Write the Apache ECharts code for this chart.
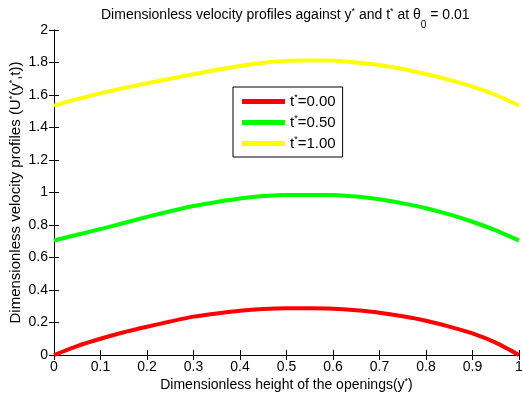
<!DOCTYPE html>
<html lang="en">
  <head>
    <meta charset="UTF-8" />
    <title>Velocity profiles</title>
    <script src="https://cdn.jsdelivr.net/npm/echarts@6/dist/echarts.min.js"></script>
  </head>
  <style>
    html,
    body {
      margin: 0;
      padding: 0;
      background: #fff;
    }
    #echart {
      width: 523px;
      height: 401px;
    }
  </style>
  <body>
    <div id="echart"></div>
  </body>
  <script>
    // y* positions along the opening
    const yStar = [0, 0.05, 0.1, 0.15, 0.2, 0.25, 0.3, 0.35, 0.4, 0.45, 0.5,
      0.55, 0.6, 0.65, 0.7, 0.75, 0.8, 0.85, 0.9, 0.95, 1];
    const tLabels = ["0.00", "0.50", "1.00"];
    const u_t0 = [0, 0.055, 0.1, 0.14, 0.174, 0.206, 0.236, 0.256, 0.273, 0.283, 0.287,
      0.287, 0.285, 0.275, 0.26, 0.238, 0.211, 0.175, 0.133, 0.076, 0];
    const u_t05 = [0.705, 0.74, 0.775, 0.812, 0.85, 0.885, 0.917, 0.942, 0.963, 0.978, 0.985,
      0.985, 0.985, 0.975, 0.958, 0.933, 0.903, 0.865, 0.82, 0.767, 0.705];
    const u_t1 = [1.535, 1.575, 1.61, 1.643, 1.672, 1.7, 1.728, 1.755, 1.778, 1.798, 1.81,
      1.812, 1.812, 1.8, 1.785, 1.76, 1.729, 1.693, 1.651, 1.6, 1.535];
    const colors = ["#ff0000", "#00ff00", "#ffff00"];

    const chart = echarts.init(document.getElementById("echart"));
    const font = "Liberation Sans";
    const sup = () => ({ fontSize: 9, fontFamily: font, verticalAlign: "top", lineHeight: 16 });
    const ticks = () => ({ show: true, inside: true, length: 5, lineStyle: { color: "#000" } });

    const series = [u_t0, u_t05, u_t1].map((vals, i) => ({
      name: "t*=" + tLabels[i],
      type: "line",
      smooth: 0.2,
      showSymbol: false,
      lineStyle: { width: 4, color: colors[i] },
      itemStyle: { color: colors[i] },
      data: yStar.map((y, k) => [y, vals[k]]),
    }));

    var option = {
      animation: false,
      textStyle: { fontFamily: font },
      title: {
        text: "Dimensionless velocity profiles against y{s|*} and t{s|*} at θ{sub|0} = 0.01",
        left: 96,
        top: 2,
        textStyle: {
          fontSize: 14,
          fontWeight: "normal",
          color: "#000",
          fontFamily: font,
          rich: {
            s: sup(),
            sub: { fontSize: 10, fontFamily: font, verticalAlign: "bottom", lineHeight: 10, padding: [0, 0, -7, 0] },
          },
        },
      },
      legend: {
        orient: "vertical",
        left: 233,
        top: 87,
        padding: [6, 7, 6, 9],
        borderColor: "#000",
        borderWidth: 1,
        backgroundColor: "#fff",
        icon: "rect",
        itemWidth: 43,
        itemHeight: 5,
        itemGap: 5,
        data: series.map((s) => s.name),
        formatter: (name) => "{n|t}{s|*}{n|=" + name.split("=")[1] + "}",
        textStyle: {
          color: "#000",
          rich: {
            n: { fontSize: 15, fontFamily: font, lineHeight: 17 },
            s: { fontSize: 9, fontFamily: font, verticalAlign: "top", lineHeight: 17 },
          },
        },
      },
      grid: { left: 54, right: 4, top: 30, bottom: 46, containLabel: false, outerBoundsMode: "none" },
      xAxis: [
        {
          type: "value",
          min: 0,
          max: 1,
          interval: 0.1,
          name: "Dimensionless height of the openings(y{s|*})",
          nameLocation: "middle",
          nameGap: 22,
          nameMoveOverlap: false,
          nameTextStyle: { fontSize: 14, color: "#000", rich: { s: sup() } },
          axisLine: { lineStyle: { color: "#000" } },
          axisTick: ticks(),
          axisLabel: { color: "#000", fontSize: 14, margin: 5 },
          splitLine: { show: false },
        },
        {
          type: "value",
          position: "top",
          min: 0,
          max: 1,
          interval: 0.1,
          axisLine: { show: true, lineStyle: { color: "#000" } },
          axisTick: ticks(),
          axisLabel: { show: false },
          splitLine: { show: false },
        },
      ],
      yAxis: [
        {
          type: "value",
          min: 0,
          max: 2,
          interval: 0.2,
          name: "Dimensionless velocity profiles (U{s|*}(y{s|*},t))",
          nameLocation: "middle",
          nameGap: 30,
          nameMoveOverlap: false,
          nameTextStyle: { fontSize: 15, color: "#000", rich: { s: sup() } },
          axisLine: { show: true, lineStyle: { color: "#000" } },
          axisTick: ticks(),
          axisLabel: { color: "#000", fontSize: 14, margin: 6 },
          splitLine: { show: false },
        },
        {
          type: "value",
          position: "right",
          min: 0,
          max: 2,
          interval: 0.2,
          axisLine: { show: true, lineStyle: { color: "#000" } },
          axisTick: ticks(),
          axisLabel: { show: false },
          splitLine: { show: false },
        },
      ],
      series: series,
    };

    chart.setOption(option);
  </script>
</html>
